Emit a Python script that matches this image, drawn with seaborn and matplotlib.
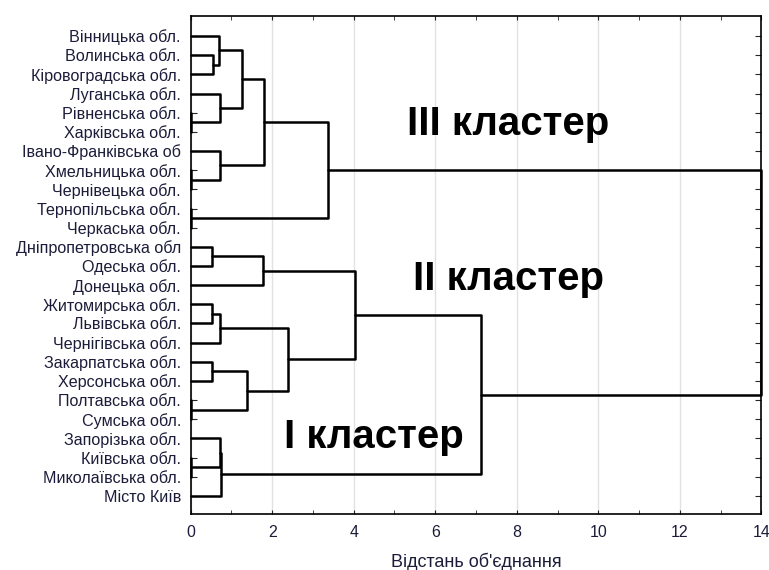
import numpy as np
import pandas as pd
import matplotlib
matplotlib.use('Agg')
import matplotlib.pyplot as plt
import seaborn as sns

# листки дерева (зверху вниз)
regions = ['Вінницька обл.', 'Волинська обл.', 'Кіровоградська обл.', 'Луганська обл.',
           'Рівненська обл.', 'Харківська обл.', 'Івано-Франківська об', 'Хмельницька обл.',
           'Чернівецька обл.', 'Тернопільська обл.', 'Черкаська обл.', 'Дніпропетровська обл',
           'Одеська обл.', 'Донецька обл.', 'Житомирська обл.', 'Львівська обл.',
           'Чернігівська обл.', 'Закарпатська обл.', 'Херсонська обл.', 'Полтавська обл.',
           'Сумська обл.', 'Запорізька обл.', 'Київська обл.', 'Миколаївська обл.', 'Місто Київ']

# об'єднання: номер кластера = 25 + номер кроку
merge_a = [1, 0, 4, 3, 26, 7, 6, 29, 9, 32, 11, 35, 14, 37, 17, 19, 39, 38, 36, 22, 21, 45, 43, 34]
merge_b = [2, 25, 5, 27, 28, 8, 30, 31, 10, 33, 12, 13, 15, 16, 18, 20, 40, 41, 42, 23, 44, 24, 46, 47]
merge_dist = [0.55, 0.70, 0.0, 0.72, 1.27, 0.0, 0.72, 1.79, 0.0, 3.36, 0.53, 1.77, 0.53, 0.71,
              0.53, 0.0, 1.37, 2.38, 4.02, 0.0, 0.71, 0.75, 7.13, 14.0]

cluster_names = ['III кластер', 'II кластер', 'I кластер']
cluster_x = [7.8, 7.8, 4.5]
cluster_y = [4.6, 12.7, 20.9]

# положення вузлів
n = len(regions)
pos = {i: float(i) for i in range(n)}
height = {i: 0.0 for i in range(n)}
rows = []
for k, (a, b, d) in enumerate(zip(merge_a, merge_b, merge_dist)):
    node = n + k
    rows += [(k, height[a], pos[a]), (k, d, pos[a]), (k, d, pos[b]), (k, height[b], pos[b])]
    pos[node] = (pos[a] + pos[b]) / 2
    height[node] = d
links = pd.DataFrame(rows, columns=['link', 'x', 'y'])

sns.set_style('white')
plt.rcParams['font.family'] = ['Liberation Sans', 'DejaVu Sans']

fig = plt.figure(figsize=(7.69, 5.70), dpi=100)
ax = fig.add_axes([0.248, 0.098, 0.742, 0.874])

sns.lineplot(data=links, x='x', y='y', units='link', estimator=None, sort=False,
             color='black', linewidth=1.8, ax=ax)
for ln in ax.lines:
    ln.set_clip_on(False)

ax.set_xlim(0, 14)
ax.set_ylim(24.95, -1.05)
ax.set_xticks(np.arange(0, 15, 2))
ax.set_xticks(np.arange(1, 14, 2), minor=True)
ax.set_yticks(range(n))
ax.set_yticklabels(regions, fontsize=11.6, color='#1c1c3a')
ax.tick_params(axis='x', which='both', direction='in', length=3, top=True, bottom=True,
               labelsize=11.5, labelcolor='#1c1c3a', pad=8)
ax.tick_params(axis='y', direction='in', length=4, left=True, right=True, pad=7)
ax.grid(axis='x', which='major', color='#e2e2e2', linewidth=1)
ax.set_axisbelow(True)
for s in ax.spines.values():
    s.set_visible(True)
    s.set_color('black')
    s.set_linewidth(1.2)

ax.set_xlabel("Відстань об'єднання", fontsize=13, color='#1c1c3a', labelpad=9)
ax.set_ylabel('')

for name, cx, cy in zip(cluster_names, cluster_x, cluster_y):
    ax.text(cx, cy, name, fontsize=29, fontweight='bold', ha='center', va='center', color='black')

fig.savefig('out.png', dpi=100)
